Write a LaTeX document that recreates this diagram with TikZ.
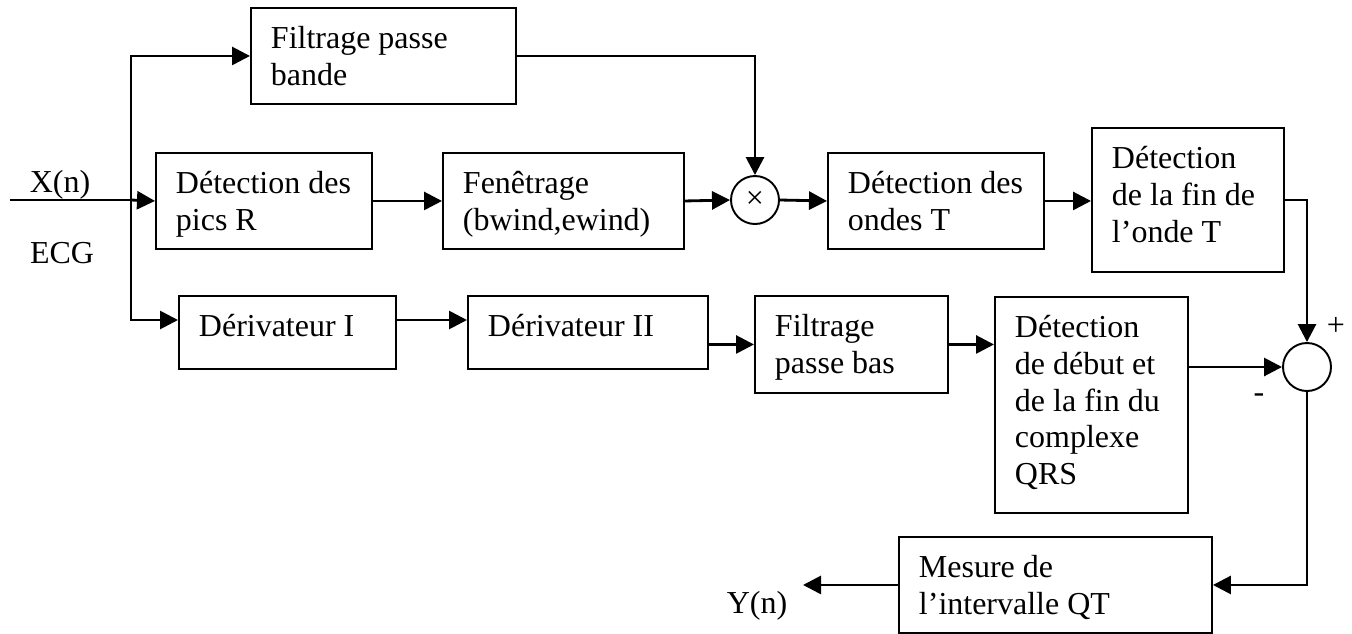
\documentclass[tikz,border=0pt]{standalone}
\usepackage{fontspec}
\setmainfont{Liberation Serif}
\usetikzlibrary{arrows.meta,calc}

\begin{document}
\begin{tikzpicture}[
    bloc/.style={draw, line width=1.1pt, anchor=north west, inner xsep=0.4cm, inner ysep=0.36cm},
    rond/.style={draw, circle, line width=1.1pt, minimum size=0.96cm, inner sep=0pt},
    fleche/.style={line width=1.6pt, -{Triangle[length=0.36cm,width=0.36cm]}},
    trait/.style={line width=1.6pt},
    every node/.style={font=\fontsize{18.2}{21}\selectfont}]

    \useasboundingbox (0,0) rectangle (27.04,-12.66);

    % blocs
    \node[bloc] (fpb) at (5.00,-0.14) {\parbox[c][1.20cm][t]{4.50cm}{Filtrage passe\\bande}};
    \node[bloc] (dpr) at (3.10,-3.04) {\parbox[c][1.20cm][t]{3.52cm}{Détection des\\pics R}};
    \node[bloc] (fen) at (8.84,-3.04) {\parbox[c][1.20cm][t]{4.02cm}{Fenêtrage\\(bwind,ewind)}};
    \node[bloc] (dot) at (16.54,-3.04) {\parbox[c][1.20cm][t]{3.52cm}{Détection des\\ondes T}};
    \node[bloc] (dft) at (21.82,-2.54) {\parbox[c][2.16cm][t]{3.04cm}{Détection\\de la fin de\\l’onde T}};
    \node[bloc] (dI) at (3.56,-5.90) {\parbox[c][0.74cm][t]{3.54cm}{Dérivateur I}};
    \node[bloc] (dII) at (9.34,-5.90) {\parbox[c][0.74cm][t]{4.00cm}{Dérivateur II}};
    \node[bloc] (fpbas) at (15.08,-5.90) {\parbox[c][1.22cm][t]{3.06cm}{Filtrage\\passe bas}};
    \node[bloc] (dqrs) at (19.88,-5.92) {\parbox[c][3.60cm][t]{3.06cm}{Détection\\de début et\\de la fin du\\complexe\\QRS}};
    \node[bloc] (mes) at (17.96,-10.72) {\parbox[c][1.20cm][t]{5.46cm}{Mesure de\\l’intervalle QT}};

    % operateurs
    \node[rond] (mult) at (15.10,-4.00) {\raisebox{-3pt}{×}};
    \node[rond] (somme) at (26.14,-7.34) {};

    % textes
    \node[anchor=base] (xn) at (1.20,-3.84) {X(n)};
    \node[anchor=base] (ecg) at (1.24,-5.26) {ECG};
    \node[anchor=base] (yn) at (15.14,-12.26) {Y(n)};
    \node (plus) at (26.72,-6.52) {+};
    \node (moins) at (25.18,-7.96) {-};

    \coordinate (entree) at (0.20,-4.00);
    \coordinate (noeud) at (2.62,-4.00);
    \path (mes.west) ++(-1.90,0) coordinate (sortie);

    % liaisons
    \draw[trait] (entree) -- (noeud);
    \draw[fleche] (noeud) -- (dpr.west);
    \draw[fleche] (noeud) |- (fpb.west);
    \draw[fleche] (noeud) |- ([yshift=-0.5cm]dI.north west);
    \draw[fleche] ([yshift=-0.5cm]dI.north east) -- ([yshift=-0.5cm]dII.north west);
    \draw[fleche] (dII.east |- fpbas.west) -- (fpbas.west);
    \draw[fleche] (fpbas.east) -- (fpbas.east -| dqrs.west);
    \draw[fleche] (dqrs.east |- somme.west) -- (somme.west);
    \draw[fleche] (dpr.east) -- (fen.west);
    \draw[fleche] (fen.east) -- (mult.west);
    \draw[fleche] (mult.east) -- (dot.west);
    \draw[fleche] (fpb.east) -| (mult.north);
    \draw[fleche] (dot.east) -- (dot.east -| dft.west);
    \draw[fleche] (dft.east) -| (somme.north);
    \draw[fleche] (somme.south) |- (mes.east);
    \draw[fleche] (mes.west) -- (sortie);
\end{tikzpicture}
\end{document}
